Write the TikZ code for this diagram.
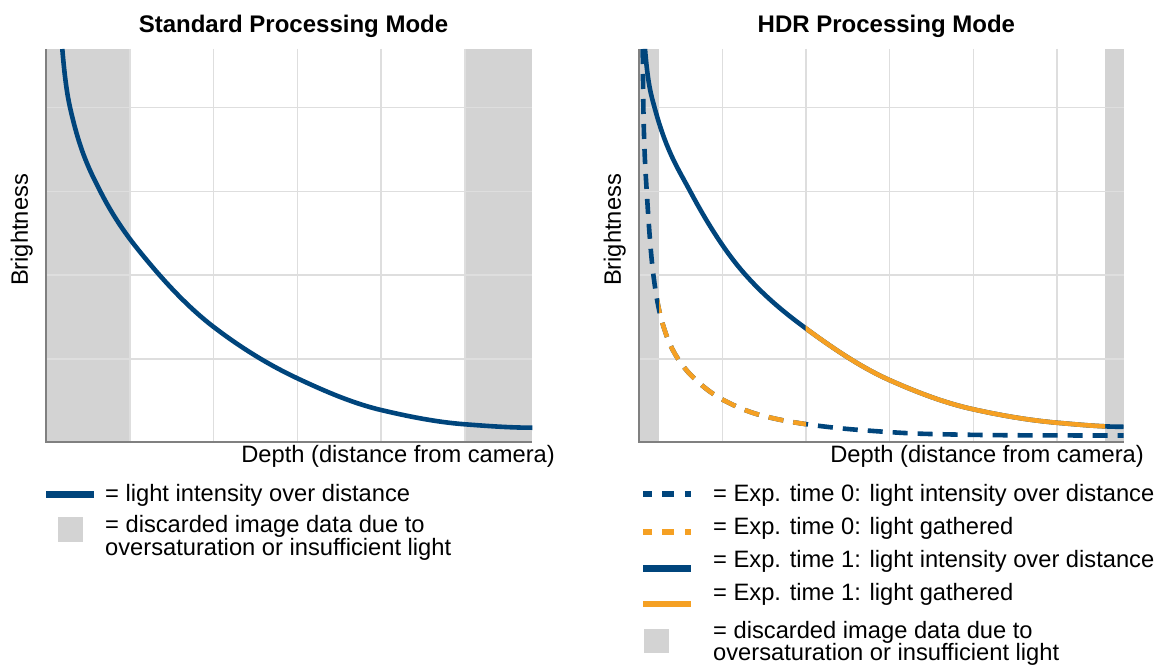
\documentclass[tikz,border=0pt]{standalone}
\usepackage{fontspec}
\setmainfont{Liberation Sans}
\definecolor{cblue}{RGB}{0,69,124}
\definecolor{corange}{RGB}{245,160,35}
\definecolor{cband}{RGB}{211,211,211}
\definecolor{cgrid}{RGB}{222,222,222}
\definecolor{caxis}{RGB}{128,128,128}
\begin{document}
\begin{tikzpicture}[x=1pt,y=-1pt,
  txt/.style={inner sep=0pt, font={\fontsize{23.7pt}{22.3pt}\selectfont}},
  ttl/.style={inner sep=0pt, font={\fontsize{24pt}{26pt}\selectfont\bfseries}},
  band/.style={fill=cband, draw=none},
  gridln/.style={draw=cgrid, line width=1.5pt},
  axisln/.style={draw=caxis, line width=2pt},
  bluecurve/.style={draw=cblue, line width=4.6pt},
  orangecurve/.style={draw=corange, line width=4.6pt},
  dashcurve/.style={dash pattern=on 15pt off 10pt},
  legline/.style={line width=6.5pt},
  legdash/.style={line width=6pt, dash pattern=on 12pt off 10.5pt, dash phase=3.5pt},
]
\useasboundingbox (0,0) rectangle (1160,666);

% ---------------- Left plot ----------------
\fill[band] (46,49) rectangle (130,442);
\fill[band] (465,49) rectangle (532.3,442);
\foreach \gx in {130,213.5,297.3,381,465} \draw[gridln] (\gx,49) -- (\gx,442);
\foreach \gy in {107.3,191.5,275,359} \draw[gridln] (46,\gy) -- (532.3,\gy);
\draw[axisln] (46,49) -- (46,442) -- (532.3,442);
\draw[bluecurve] (62.3,49)
  .. controls (64.87,79.8) and (67.43,95.8) .. (70,107.3)
  .. controls (80.17,152.75) and (90.33,171.77) .. (100.5,191.7)
  .. controls (117,224.04) and (133.5,244.37) .. (150,264)
  .. controls (171.1,289.1) and (192.2,310.5) .. (213.3,326.7)
  .. controls (241.3,348.1) and (269.3,365.17) .. (297.3,378.3)
  .. controls (325.2,391.4) and (353.1,403.4) .. (381,410)
  .. controls (409,416.6) and (437,422.2) .. (465,424.3)
  .. controls (487.4,426.0) and (509.9,427.7) .. (532.3,427.7);

\node[ttl, anchor=base] (t1) at (293.5,32.3) {Standard Processing Mode};
\node[txt, anchor=base east] (xl1) at (555,462) {Depth (distance from camera)};
\node[txt, anchor=base, rotate=90] (yl1) at (27.8,230) {Brightness};

% ---------------- Right plot ----------------
\fill[band] (638.5,49) rectangle (659,442);
\fill[band] (1105,49) rectangle (1123.5,442);
\foreach \gx in {722.3,806,889.5,973.3,1056.8} \draw[gridln] (\gx,49) -- (\gx,442);
\foreach \gy in {107.3,191.5,275,359} \draw[gridln] (638.5,\gy) -- (1123.5,\gy);
\draw[axisln] (638.5,49) -- (638.5,442) -- (1123.5,442);

% exposure time 0 (dashed)
\draw[bluecurve, dashcurve] (642.7,49)
  .. controls (643.0,76.45) and (643.3,108.15) .. (643.6,120)
  .. controls (644.63,160.8) and (645.67,173.6) .. (646.7,191)
  .. controls (648.9,228.05) and (651.1,256.9) .. (653.3,274.3)
  .. controls (655.87,294.6) and (658.43,308.58) .. (661,318)
  .. controls (665.67,335.13) and (670.33,346.04) .. (675,354)
  .. controls (682.33,366.51) and (689.67,374.28) .. (697,381)
  .. controls (705.77,389.03) and (714.53,395.35) .. (723.3,400)
  .. controls (735.53,406.48) and (747.77,411.67) .. (760,415)
  .. controls (775,419.08) and (790,421.86) .. (805,424)
  .. controls (823.33,426.61) and (841.67,428.61) .. (860,430)
  .. controls (883.33,431.77) and (906.67,433.45) .. (930,434)
  .. controls (960,434.71) and (990,435.19) .. (1020,435.3)
  .. controls (1054.5,435.42) and (1089,435.5) .. (1123.5,435.5);
\begin{scope}
\clip (659,0) rectangle (806,666);
\draw[orangecurve, dashcurve] (642.7,49)
  .. controls (643.0,76.45) and (643.3,108.15) .. (643.6,120)
  .. controls (644.63,160.8) and (645.67,173.6) .. (646.7,191)
  .. controls (648.9,228.05) and (651.1,256.9) .. (653.3,274.3)
  .. controls (655.87,294.6) and (658.43,308.58) .. (661,318)
  .. controls (665.67,335.13) and (670.33,346.04) .. (675,354)
  .. controls (682.33,366.51) and (689.67,374.28) .. (697,381)
  .. controls (705.77,389.03) and (714.53,395.35) .. (723.3,400)
  .. controls (735.53,406.48) and (747.77,411.67) .. (760,415)
  .. controls (775,419.08) and (790,421.86) .. (805,424)
  .. controls (823.33,426.61) and (841.67,428.61) .. (860,430)
  .. controls (883.33,431.77) and (906.67,433.45) .. (930,434)
  .. controls (960,434.71) and (990,435.19) .. (1020,435.3)
  .. controls (1054.5,435.42) and (1089,435.5) .. (1123.5,435.5);
\end{scope}

% exposure time 1 (solid)
\draw[bluecurve] (645,49)
  .. controls (648.17,87) and (651.33,95.49) .. (654.5,107.3)
  .. controls (666.33,151.43) and (678.17,168.82) .. (690,191)
  .. controls (708.33,225.37) and (726.67,253.66) .. (745,274.3)
  .. controls (765.23,297.08) and (785.47,313.4) .. (805.7,328.3)
  .. controls (833.57,348.83) and (861.43,367.57) .. (889.3,380)
  .. controls (917.3,392.49) and (945.3,403.14) .. (973.3,409.3)
  .. controls (1001.1,415.42) and (1028.9,420.28) .. (1056.7,422.7)
  .. controls (1078.97,424.64) and (1101.23,426.8) .. (1123.5,426.8);
\begin{scope}
\clip (805.7,0) rectangle (1105,666);
\draw[orangecurve] (645,49)
  .. controls (648.17,87) and (651.33,95.49) .. (654.5,107.3)
  .. controls (666.33,151.43) and (678.17,168.82) .. (690,191)
  .. controls (708.33,225.37) and (726.67,253.66) .. (745,274.3)
  .. controls (765.23,297.08) and (785.47,313.4) .. (805.7,328.3)
  .. controls (833.57,348.83) and (861.43,367.57) .. (889.3,380)
  .. controls (917.3,392.49) and (945.3,403.14) .. (973.3,409.3)
  .. controls (1001.1,415.42) and (1028.9,420.28) .. (1056.7,422.7)
  .. controls (1078.97,424.64) and (1101.23,426.8) .. (1123.5,426.8);
\end{scope}

\node[ttl, anchor=base] (t2) at (886.4,32.3) {HDR Processing Mode};
\node[txt, anchor=base east] (xl2) at (1144,462) {Depth (distance from camera)};
\node[txt, anchor=base, rotate=90] (yl2) at (620.8,230) {Brightness};

% ---------------- Left legend ----------------
\draw[cblue, legline] (46,494.7) -- (94,494.7);
\node[txt, anchor=base west] (l1a) at (105,501) {= light intensity over distance};
\fill[cband] (58,517) rectangle (83,542);
\node[txt, anchor=base west] (l1b) at (105,532.7) {= discarded image data due to};
\node[txt, anchor=base west] (l1c) at (105,555) {oversaturation or insufficient light};

% ---------------- Right legend ----------------
\draw[cblue, legdash] (643.4,493.7) -- (691.4,493.7);
\node[txt, anchor=base west] (r1) at (713,501) {= Exp. time 0: light intensity over distance};
\draw[corange, legdash] (643.4,532) -- (691.4,532);
\node[txt, anchor=base west] (r2) at (713,534) {= Exp. time 0: light gathered};
\draw[cblue, legline] (643.4,568.3) -- (691.4,568.3);
\node[txt, anchor=base west] (r3) at (713,567.3) {= Exp. time 1: light intensity over distance};
\draw[corange, legline] (643.4,604) -- (691.4,604);
\node[txt, anchor=base west] (r4) at (713,600) {= Exp. time 1: light gathered};
\fill[cband] (644,629.3) rectangle (669,653.3);
\node[txt, anchor=base west] (r5a) at (713,638.3) {= discarded image data due to};
\node[txt, anchor=base west] (r5b) at (713,660) {oversaturation or insufficient light};
\end{tikzpicture}
\end{document}
